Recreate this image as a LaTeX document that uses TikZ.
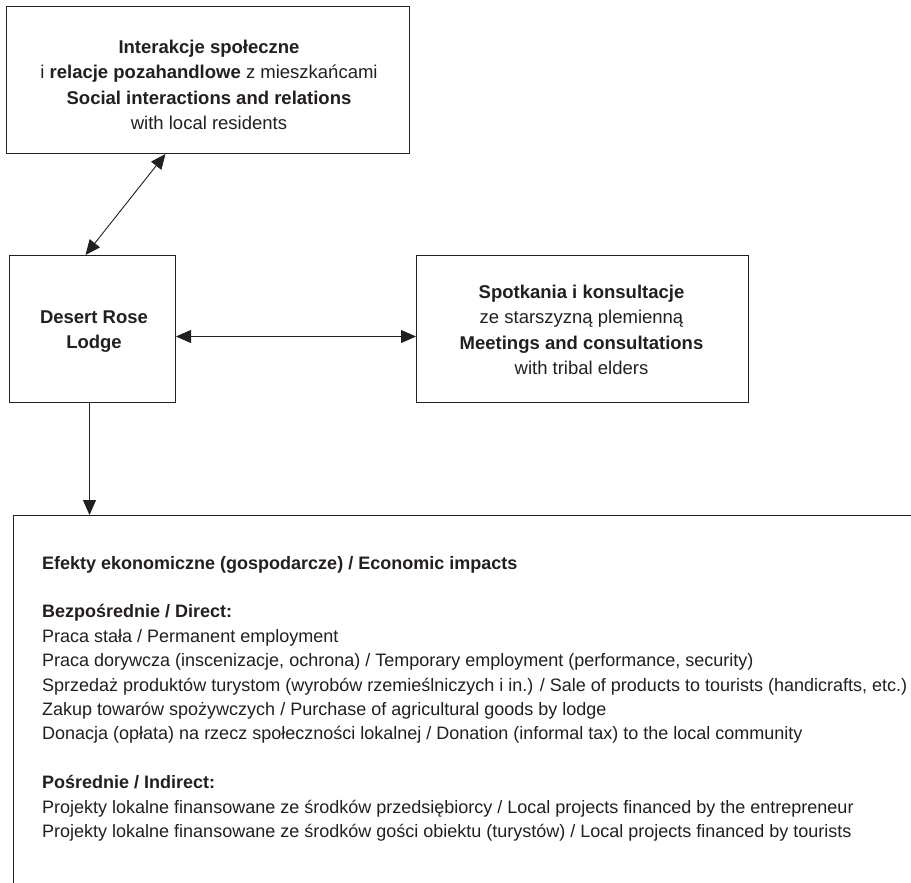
\documentclass[tikz,border=0pt]{standalone}
\usepackage{fontspec}
\setmainfont{Liberation Sans}
\usetikzlibrary{arrows.meta,calc}
\definecolor{ink}{HTML}{231F20}
\tikzset{Tri/.tip={Triangle[length=15pt,width=13pt]}}
\begin{document}
\begin{tikzpicture}[x=1pt,y=-1pt,
  box/.style={draw=ink, line width=1pt, rectangle, inner sep=0pt, anchor=north west},
  txt/.style={anchor=base, inner sep=0pt, text=ink, font=\fontsize{18.5}{25.4}\selectfont},
  link/.style={draw=ink, line width=0.9pt}]
\useasboundingbox (0,0) rectangle (911,883);
\clip (0,0) rectangle (911,883);
\fill[white] (0,0) rectangle (911,883);

\node[box, minimum width=403pt, minimum height=147pt] (social) at (6,6) {};
\node[box, minimum width=166pt, minimum height=147pt] (lodge) at (9,255) {};
\node[box, minimum width=332pt, minimum height=147pt] (elders) at (416,255) {};
\node[box, minimum width=950pt, minimum height=420pt] (econ) at (13,515) {};

\node[txt] (socialtext) at (209,53.5) {\parbox[t]{400pt}{\centering
  \textbf{Interakcje społeczne}\\
  i \textbf{relacje pozahandlowe} z mieszkańcami\\
  \textbf{Social interactions and relations}\\
  with local residents}};

\node[txt] (lodgetext) at (94,323.5) {\parbox[t]{160pt}{\centering
  \textbf{Desert Rose}\\
  \textbf{Lodge}}};

\node[txt] (elderstext) at (581.5,298.5) {\parbox[t]{330pt}{\centering
  \textbf{Spotkania i konsultacje}\\
  ze starszyzną plemienną\\
  \textbf{Meetings and consultations}\\
  with tribal elders}};

\node[anchor=base west, inner sep=0pt, text=ink, font=\fontsize{18}{24.4}\selectfont] (econtext) at (42,569) {\parbox[t]{880pt}{\raggedright
  \textbf{Efekty ekonomiczne (gospodarcze) / Economic impacts}\\
  \mbox{}\\
  \textbf{Bezpośrednie / Direct:}\\
  Praca stała / Permanent employment\\
  Praca dorywcza (inscenizacje, ochrona) / Temporary employment (performance, security)\\
  Sprzedaż produktów turystom (wyrobów rzemieślniczych i in.) / Sale of products to tourists (handicrafts, etc.)\\
  Zakup towarów spożywczych / Purchase of agricultural goods by lodge\\
  Donacja (opłata) na rzecz społeczności lokalnej / Donation (informal tax) to the local community\\
  \mbox{}\\
  \textbf{Pośrednie / Indirect:}\\
  Projekty lokalne finansowane ze środków przedsiębiorcy / Local projects financed by the entrepreneur\\
  Projekty lokalne finansowane ze środków gości obiektu (turystów) / Local projects financed by tourists}};

\draw[link, Tri-Tri] ([xshift=-7pt]lodge.north) -- ([xshift=-42.5pt]social.south);
\draw[link, Tri-Tri] ([yshift=-7.5pt]lodge.east) -- ([yshift=-7.5pt]lodge.east -| elders.west);
\draw[link, -Tri] ([xshift=-3pt]lodge.south) -- ([xshift=-3pt]lodge.south |- econ.north);
\end{tikzpicture}
\end{document}
